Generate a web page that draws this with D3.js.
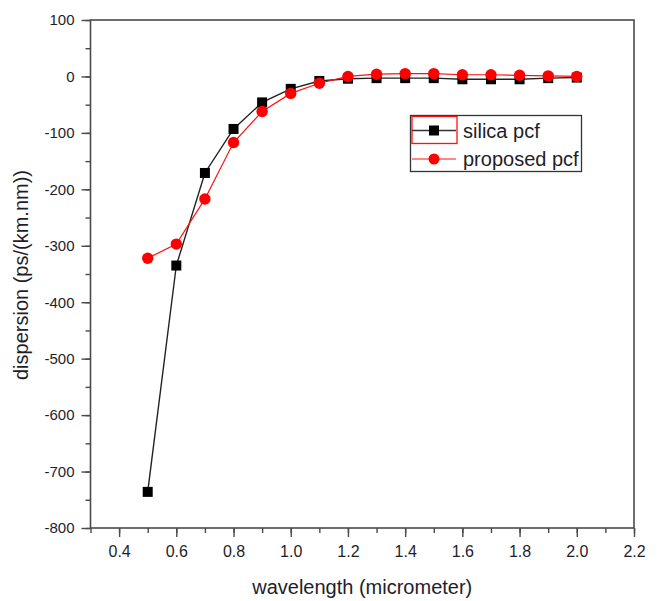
<!DOCTYPE html>
<html><head><meta charset="utf-8">
<script src="https://cdn.jsdelivr.net/npm/d3@7"></script>
<style>html,body{margin:0;padding:0;background:#fff;}svg{display:block;font-family:"Liberation Sans",Arial,sans-serif;}</style>
</head><body>
<script>
const wavelength = [0.5,0.6,0.7,0.8,0.9,1.0,1.1,1.2,1.3,1.4,1.5,1.6,1.7,1.8,1.9,2.0];
const silicaPcf  = [-736,-335,-171,-93,-46,-22,-8,-4,-3,-3,-3,-5,-5,-5,-3,-2];
const proposedPcf= [-322,-297,-217,-117,-62,-30,-12,0,4,5,5,3,3,2,1,0];
const xTicks = [0.4,0.6,0.8,1.0,1.2,1.4,1.6,1.8,2.0,2.2];
const yTicks = [100,0,-100,-200,-300,-400,-500,-600,-700,-800];
const seriesNames = ["silica pcf","proposed pcf"];

const W=657,H=601;
const L=90.5,R=634,T=20,B=528;
const svg=d3.select("body").append("svg").attr("width",W).attr("height",H);
const x=d3.scaleLinear().domain([0.3,2.2]).range([L,R]);
const y=d3.scaleLinear().domain([-800,100]).range([B,T]);
const axisCol="#4a4a4a", textCol="#1e1e2a";

// frame
svg.append("rect").attr("x",L).attr("y",T).attr("width",R-L).attr("height",B-T)
  .attr("fill","none").attr("stroke",axisCol).attr("stroke-width",1.6);

// x axis
const xMinor=d3.range(3,23).map(d=>d/10);
const gx=svg.append("g").attr("transform",`translate(0,${B})`);
gx.call(d3.axisBottom(x).tickValues(xMinor).tickSize(5).tickFormat(""))
  .call(g=>g.select(".domain").remove()).call(g=>g.selectAll("text").remove());
gx.append("g").call(d3.axisBottom(x).tickValues(xTicks).tickSize(9).tickPadding(9).tickFormat(d3.format(".1f")))
  .call(g=>g.select(".domain").remove());
gx.selectAll("line").attr("stroke",axisCol).attr("stroke-width",1.4);
gx.selectAll("text").attr("font-size",16).attr("fill",textCol).attr("font-family","Liberation Sans, Arial, sans-serif");

// y axis
const yMinor=d3.range(-800,101,50);
const gy=svg.append("g").attr("transform",`translate(${L},0)`);
gy.call(d3.axisLeft(y).tickValues(yMinor).tickSize(5).tickFormat(""))
  .call(g=>g.select(".domain").remove()).call(g=>g.selectAll("text").remove());
gy.append("g").call(d3.axisLeft(y).tickValues(yTicks).tickSize(9).tickPadding(7).tickFormat(d=>d<0?"-"+Math.abs(d):String(d)))
  .call(g=>g.select(".domain").remove());
gy.selectAll("line").attr("stroke",axisCol).attr("stroke-width",1.4);
gy.selectAll("text").attr("font-size",15).attr("fill",textCol).attr("font-family","Liberation Sans, Arial, sans-serif");

// titles
svg.append("text").attr("x",(L+R)/2).attr("y",594).attr("text-anchor","middle")
  .attr("font-size",20).attr("fill",textCol).text("wavelength (micrometer)");
svg.append("text").attr("transform","translate(28,275) rotate(-90)").attr("text-anchor","middle")
  .attr("font-size",20).attr("fill",textCol).text("dispersion (ps/(km.nm))");

// lines
const line=d3.line().x(d=>x(d[0])).y(d=>y(d[1]));
const sData=wavelength.map((w,i)=>[w,silicaPcf[i]]);
const pData=wavelength.map((w,i)=>[w,proposedPcf[i]]);
svg.append("path").datum(sData).attr("d",line).attr("fill","none").attr("stroke","#222").attr("stroke-width",1.4);
svg.selectAll(".sq").data(sData).join("rect").attr("class","sq")
  .attr("x",d=>x(d[0])-5).attr("y",d=>y(d[1])-5).attr("width",10).attr("height",10).attr("fill","#000");
svg.append("path").datum(pData).attr("d",line).attr("fill","none").attr("stroke","#ff1010").attr("stroke-width",1.2);
svg.selectAll(".ci").data(pData).join("circle").attr("class","ci")
  .attr("cx",d=>x(d[0])).attr("cy",d=>y(d[1])).attr("r",5.7).attr("fill","#ff0000");

// legend
const lg=svg.append("g");
lg.append("rect").attr("x",410.5).attr("y",115.5).attr("width",171).attr("height",56)
  .attr("fill","#fff").attr("stroke","#333").attr("stroke-width",1.3);
lg.append("rect").attr("x",412).attr("y",116.5).attr("width",45).attr("height",27)
  .attr("fill","none").attr("stroke","#ff1010").attr("stroke-width",1.3);
const ly=[130.5,159];
lg.append("line").attr("x1",412).attr("x2",456).attr("y1",ly[0]).attr("y2",ly[0]).attr("stroke","#333").attr("stroke-width",1.4);
lg.append("rect").attr("x",429).attr("y",ly[0]-5).attr("width",10).attr("height",10).attr("fill","#000");
lg.append("line").attr("x1",412).attr("x2",456).attr("y1",ly[1]).attr("y2",ly[1]).attr("stroke","#ff1010").attr("stroke-width",1.2);
lg.append("circle").attr("cx",434).attr("cy",ly[1]).attr("r",5.5).attr("fill","#ff0000");
lg.selectAll(".lt").data(seriesNames).join("text").attr("class","lt")
  .attr("x",463).attr("y",(d,i)=>ly[i]+7).attr("font-size",20).attr("fill",textCol).text(d=>d);
</script>
</body></html>
